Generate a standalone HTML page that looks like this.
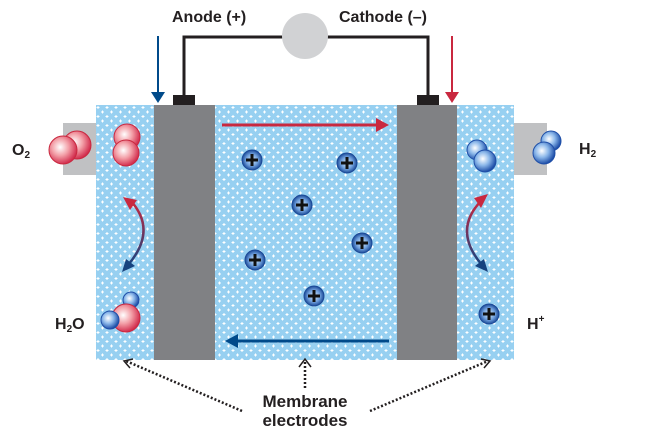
<!DOCTYPE html>
<html><head><meta charset="utf-8"><style>
html,body{margin:0;padding:0;background:#fff;width:648px;height:441px;overflow:hidden}
text{font-family:"Liberation Sans",Arial,sans-serif;font-weight:bold;fill:#231f20}
</style></head><body>
<svg width="648" height="441" viewBox="0 0 648 441" xmlns="http://www.w3.org/2000/svg">
<defs>
<pattern id="dots" x="96" y="105" width="9" height="9" patternUnits="userSpaceOnUse">
<rect width="9" height="9" fill="#97d0f1"/>
<path d="M2 1v3M0.5 2.5h3" stroke="#fff" stroke-width="1"/>
<path d="M6.5 5.5v3M5 7h3" stroke="#fff" stroke-width="1"/>
</pattern>
<radialGradient id="red" cx="0.4" cy="0.4" r="0.6"><stop offset="0" stop-color="#fff"/><stop offset="0.5" stop-color="#f3a0a8"/><stop offset="1" stop-color="#d33050"/></radialGradient>
<radialGradient id="blu" cx="0.4" cy="0.4" r="0.6"><stop offset="0" stop-color="#fff"/><stop offset="0.5" stop-color="#8cb8ea"/><stop offset="1" stop-color="#1f4fa8"/></radialGradient>
<radialGradient id="ion" cx="0.5" cy="0.5" r="0.5"><stop offset="0" stop-color="#d8ecfb"/><stop offset="0.6" stop-color="#6f9fdc"/><stop offset="1" stop-color="#1b4a98"/></radialGradient>
<linearGradient id="cl" x1="0" y1="0" x2="0" y2="1"><stop offset="0" stop-color="#c9283f"/><stop offset="1" stop-color="#17437f"/></linearGradient>
<g id="ionp"><circle r="10" fill="url(#ion)" stroke="#1b4a98" stroke-width="1"/><path d="M-6 0h12M0 -6v12" stroke="#111" stroke-width="3"/></g>
</defs>
<rect x="63" y="123" width="33" height="52" fill="#c0c1c3"/>
<rect x="514" y="123" width="33" height="52" fill="#c0c1c3"/>
<rect x="96" y="105" width="418" height="255" fill="url(#dots)"/>
<rect x="154" y="105" width="61" height="255" fill="#808184"/>
<rect x="397" y="105" width="60" height="255" fill="#808184"/>
<path d="M184 96V37H428V96" fill="none" stroke="#231f20" stroke-width="3"/>
<rect x="173" y="95" width="22" height="10" fill="#231f20"/>
<rect x="417" y="95" width="22" height="10" fill="#231f20"/>
<circle cx="305" cy="36" r="23" fill="#d1d2d4"/>
<text x="172" y="22" font-size="16">Anode (+)</text>
<text x="339" y="22" font-size="16">Cathode (–)</text>
<path d="M158 36V94" stroke="#004a8a" stroke-width="2"/><path d="M151 92h14l-7 11z" fill="#004a8a"/>
<path d="M452 36V94" stroke="#c9283f" stroke-width="2"/><path d="M445 92h14l-7 11z" fill="#c9283f"/>
<path d="M222 125H378" stroke="#c9283f" stroke-width="3"/><path d="M376 118l13 7-13 7z" fill="#c9283f"/>
<path d="M236 341H389" stroke="#004a8a" stroke-width="3"/><path d="M238 334l-13 7 13 7z" fill="#004a8a"/>
<circle cx="77" cy="145" r="14" fill="url(#red)" stroke="#c9283f"/>
<circle cx="63" cy="150" r="14" fill="url(#red)" stroke="#c9283f"/>
<circle cx="127" cy="137" r="13" fill="url(#red)" stroke="#c9283f"/>
<circle cx="126" cy="153" r="13" fill="url(#red)" stroke="#c9283f"/>
<text x="12" y="155" font-size="16">O<tspan font-size="10" dy="3">2</tspan></text>
<circle cx="131" cy="300" r="8" fill="url(#blu)" stroke="#1f4fa8"/>
<circle cx="126" cy="318" r="14" fill="url(#red)" stroke="#c9283f"/>
<circle cx="110" cy="320" r="9" fill="url(#blu)" stroke="#1f4fa8"/>
<text x="55" y="329" font-size="16">H<tspan font-size="10" dy="3">2</tspan><tspan dy="-3">O</tspan></text>
<circle cx="477" cy="150" r="10" fill="url(#blu)" stroke="#1f4fa8"/>
<circle cx="485" cy="161" r="11" fill="url(#blu)" stroke="#1f4fa8"/>
<circle cx="551" cy="141" r="10" fill="url(#blu)" stroke="#1f4fa8"/>
<circle cx="544" cy="153" r="11" fill="url(#blu)" stroke="#1f4fa8"/>
<text x="579" y="154" font-size="16">H<tspan font-size="10" dy="3">2</tspan></text>
<text x="527" y="329" font-size="16">H<tspan font-size="10" dy="-7">+</tspan></text>
<use href="#ionp" x="252" y="160"/><use href="#ionp" x="347" y="163"/><use href="#ionp" x="302" y="205"/>
<use href="#ionp" x="362" y="243"/><use href="#ionp" x="255" y="260"/><use href="#ionp" x="314" y="296"/>
<use href="#ionp" x="489" y="314"/>
<path d="M130 200Q158 230 128 265" fill="none" stroke="url(#cl)" stroke-width="2.5"/>
<path d="M123 197l14 3-7 10z" fill="#c9283f"/><path d="M122 272l4-13 9 7z" fill="#17437f"/>
<path d="M482 200Q452 230 482 265" fill="none" stroke="url(#cl)" stroke-width="2.5"/>
<path d="M488 194l-14 4 7 10z" fill="#c9283f"/><path d="M488 272l-4-13-9 7z" fill="#17437f"/>
<g stroke="#231f20" stroke-width="2.5" stroke-dasharray="2 2" fill="none">
<path d="M242 411L126 361"/><path d="M305 388V360"/><path d="M370 411L488 361"/>
</g>
<g stroke="#231f20" stroke-width="1.5" fill="none">
<path d="M133 359l-9 2 6 7"/><path d="M299 367l6-8 6 8"/><path d="M481 359l9 2-6 7"/>
</g>
<text x="305" y="407" font-size="17" text-anchor="middle">Membrane</text>
<text x="305" y="426" font-size="17" text-anchor="middle">electrodes</text>
</svg>
</body></html>
